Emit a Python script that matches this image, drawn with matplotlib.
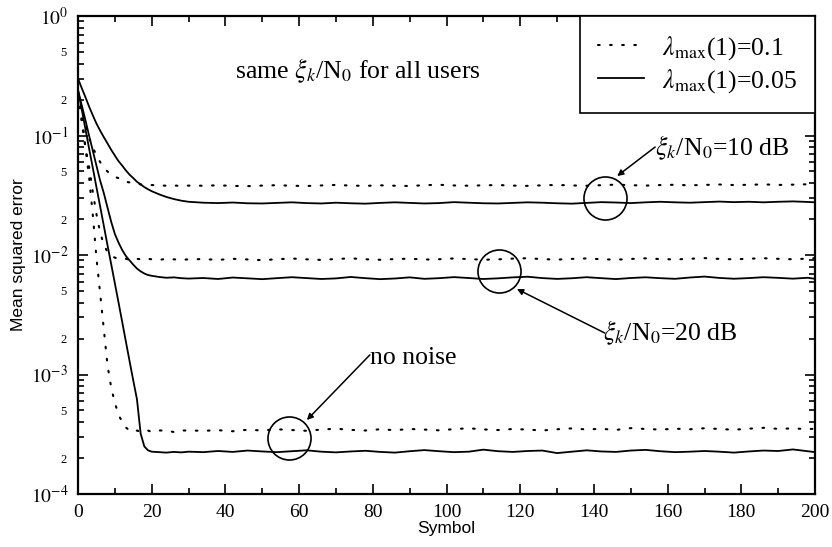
import numpy as np
import matplotlib
matplotlib.use("Agg")
import matplotlib.pyplot as plt
from matplotlib.ticker import FixedLocator, FuncFormatter

plt.rcParams['font.family'] = 'serif'
plt.rcParams['font.serif'] = ['Liberation Serif', 'DejaVu Serif']
plt.rcParams['mathtext.fontset'] = 'stix'

# Symbol index (x axis)
sym = list(range(0, 21)) + [22, 24, 26, 28, 30] + list(range(34, 199, 4)) + [200]

# lambda_max(1)=0.05 (solid) and 0.1 (dotted), three SNR cases
s10 = [0.300, 0.250, 0.210, 0.175, 0.148, 0.126, 0.110, 0.097, 0.086, 0.076, 0.068,
       0.061, 0.056, 0.051, 0.047, 0.044, 0.041, 0.039, 0.037, 0.0355, 0.0342,
       0.0322, 0.0306, 0.0294, 0.0285, 0.0279,
       0.0274, 0.0272, 0.0275, 0.0271, 0.0270, 0.0273, 0.0276, 0.0272, 0.0270, 0.0274,
       0.0271, 0.0269, 0.0273, 0.0276, 0.0273, 0.0270, 0.0272, 0.0277, 0.0274, 0.0271,
       0.0270, 0.0273, 0.0276, 0.0274, 0.0271, 0.0269, 0.0273, 0.0277, 0.0275, 0.0272,
       0.0276, 0.0279, 0.0276, 0.0274, 0.0277, 0.0280, 0.0277, 0.0279, 0.0276, 0.0279,
       0.0281, 0.0278, 0.0276]
d10 = [0.230, 0.170, 0.125, 0.095, 0.080, 0.068, 0.060, 0.054, 0.050, 0.047, 0.045,
       0.044, 0.042, 0.041, 0.0405, 0.0400, 0.0395, 0.0390, 0.0388, 0.0386, 0.0385,
       0.0383, 0.0380, 0.0382, 0.0378, 0.0381,
       0.0380, 0.0383, 0.0379, 0.0377, 0.0381, 0.0384, 0.0380, 0.0378, 0.0382, 0.0386,
       0.0381, 0.0379, 0.0383, 0.0380, 0.0378, 0.0384, 0.0387, 0.0382, 0.0380, 0.0383,
       0.0385, 0.0381, 0.0379, 0.0383, 0.0386, 0.0382, 0.0380, 0.0384, 0.0388, 0.0384,
       0.0381, 0.0385, 0.0387, 0.0383, 0.0386, 0.0389, 0.0385, 0.0387, 0.0390, 0.0386,
       0.0388, 0.0391, 0.0389]
s20 = [0.240, 0.180, 0.135, 0.100, 0.075, 0.056, 0.042, 0.033, 0.025, 0.019, 0.015,
       0.0127, 0.0110, 0.0098, 0.0090, 0.0083, 0.0077, 0.0073, 0.0070, 0.0068, 0.0067,
       0.00655, 0.00645, 0.00650, 0.00640, 0.00635,
       0.00642, 0.00630, 0.00648, 0.00638, 0.00628, 0.00640, 0.00652, 0.00641, 0.00630,
       0.00637, 0.00655, 0.00640, 0.00628, 0.00636, 0.00650, 0.00632, 0.00640, 0.00653,
       0.00642, 0.00630, 0.00638, 0.00650, 0.00658, 0.00641, 0.00631, 0.00639, 0.00652,
       0.00640, 0.00629, 0.00642, 0.00651, 0.00640, 0.00632, 0.00648, 0.00660, 0.00643,
       0.00633, 0.00641, 0.00652, 0.00644, 0.00634, 0.00645, 0.00632]
d20 = [0.220, 0.130, 0.080, 0.055, 0.034, 0.022, 0.0155, 0.0122, 0.0106, 0.0099, 0.0095,
       0.0093, 0.0092, 0.0093, 0.0091, 0.0092, 0.0093, 0.0092, 0.0091, 0.0093, 0.0092,
       0.0091, 0.0093, 0.0092, 0.0091, 0.0092,
       0.00925, 0.00910, 0.00930, 0.00918, 0.00905, 0.00922, 0.00935, 0.00920, 0.00910,
       0.00926, 0.00938, 0.00921, 0.00912, 0.00925, 0.00932, 0.00916, 0.00922, 0.00936,
       0.00925, 0.00913, 0.00920, 0.00933, 0.00940, 0.00924, 0.00915, 0.00928, 0.00936,
       0.00922, 0.00914, 0.00927, 0.00938, 0.00925, 0.00918, 0.00930, 0.00942, 0.00928,
       0.00920, 0.00931, 0.00940, 0.00929, 0.00921, 0.00933, 0.00940]
s0 = [0.240, 0.166, 0.114, 0.078, 0.054, 0.037, 0.0256, 0.0176, 0.0121, 0.0084, 0.0058,
      0.0040, 0.00275, 0.00188, 0.00129, 0.00089, 0.00062, 0.00032, 0.000250, 0.000232,
      0.000226, 0.000224, 0.000222, 0.000225, 0.000223, 0.000226,
      0.000224, 0.000229, 0.000225, 0.000231, 0.000227, 0.000224, 0.000228, 0.000232,
      0.000226, 0.000223, 0.000227, 0.000230, 0.000225, 0.000222, 0.000228, 0.000233,
      0.000228, 0.000224, 0.000226, 0.000235, 0.000228, 0.000225, 0.000229, 0.000231,
      0.000220, 0.000226, 0.000232, 0.000227, 0.000225, 0.000231, 0.000234, 0.000228,
      0.000224, 0.000226, 0.000229, 0.000226, 0.000222, 0.000227, 0.000231, 0.000229,
      0.000236, 0.000228, 0.000224]
d0 = [0.220, 0.150, 0.080, 0.045, 0.022, 0.0095, 0.0048, 0.0024, 0.0012, 0.00078,
      0.00058, 0.00046, 0.00040, 0.00036, 0.00034, 0.00033, 0.00034, 0.00033, 0.00034,
      0.00034, 0.00033, 0.00034, 0.00034, 0.00033, 0.00034, 0.00034,
      0.000338, 0.000342, 0.000335, 0.000345, 0.000340, 0.000348, 0.000343, 0.000338,
      0.000346, 0.000352, 0.000344, 0.000340, 0.000348, 0.000342, 0.000350, 0.000346,
      0.000341, 0.000349, 0.000355, 0.000347, 0.000343, 0.000350, 0.000346, 0.000340,
      0.000348, 0.000354, 0.000347, 0.000351, 0.000344, 0.000356, 0.000350, 0.000346,
      0.000352, 0.000348, 0.000355, 0.000350, 0.000345, 0.000352, 0.000358, 0.000351,
      0.000354, 0.000349, 0.000352]

legend_labels = [r'$\lambda_{\rm max}$(1)=0.1', r'$\lambda_{\rm max}$(1)=0.05']

dot_style = dict(color='black', lw=1.5, ls=(0, (0.8, 5.0)), dash_capstyle='round')
solid_style = dict(color='black', lw=1.3)

fig = plt.figure(figsize=(8.32, 5.47), dpi=100)
ax = fig.add_axes([0.09375, 0.0969, 0.8859, 0.8738])

hd, = ax.plot(sym, d10, **dot_style)
hs, = ax.plot(sym, s10, **solid_style)
ax.plot(sym, d20, **dot_style)
ax.plot(sym, s20, **solid_style)
ax.plot(sym, d0, **dot_style)
ax.plot(sym, s0, **solid_style)

ax.set_yscale('log')
ax.set_xlim(0, 200)
ax.set_ylim(1e-4, 1)

# ticks
ax.set_xticks(np.arange(0, 201, 20))
ax.xaxis.set_minor_locator(FixedLocator(np.arange(10, 200, 20)))
ax.yaxis.set_major_locator(FixedLocator([1e-4, 1e-3, 1e-2, 1e-1, 1e0]))
minors = [m * 10.0 ** e for e in range(-4, 0) for m in range(2, 10)]
ax.yaxis.set_minor_locator(FixedLocator(minors))
ax.yaxis.set_major_formatter(FuncFormatter(lambda v, p: r'$10^{%d}$' % round(np.log10(v))))


def minor_fmt(v, p):
    m = round(v / 10.0 ** np.floor(np.log10(v) + 1e-9))
    return str(m) if m in (2, 5) else ''


ax.yaxis.set_minor_formatter(FuncFormatter(minor_fmt))
ax.tick_params(which='both', direction='in', top=True, right=True, width=1.2)
ax.tick_params(which='major', length=7, labelsize=14, pad=7)
ax.tick_params(which='minor', length=4, labelsize=9, pad=8)
ax.tick_params(axis='x', which='minor', labelbottom=False)
for sp in ax.spines.values():
    sp.set_linewidth(1.6)

ax.set_xlabel('Symbol', fontfamily='Liberation Sans', fontsize=12.5, labelpad=0)
ax.set_ylabel('Mean squared error', fontfamily='Liberation Sans', fontsize=12.5, labelpad=3)

# annotations
ax.text(42.6, 0.303, r'same $\xi_k$/N$_0$ for all users', fontsize=18.5,
        va='baseline', ha='left')

circle_style = dict(marker='o', ms=31, mfc='none', mec='black', mew=1.2, ls='none')
arrow_style = dict(arrowstyle='-|>', color='black', lw=1.1, mutation_scale=9,
                   shrinkA=0, shrinkB=0)

ax.plot([143], [0.030], **circle_style)
ax.annotate('', xy=(146.3, 0.0458), xytext=(156.6, 0.0801), arrowprops=arrow_style)
ax.text(156.6, 0.0687, r'$\xi_k$/N$_0$=10 dB', fontsize=18.5, va='baseline', ha='left')

ax.plot([114.2], [0.00735], **circle_style)
ax.annotate('', xy=(119.1, 0.00519), xytext=(143.0, 0.00222), arrowprops=arrow_style)
ax.text(142.5, 0.00194, r'$\xi_k$/N$_0$=20 dB', fontsize=18.5, va='baseline', ha='left')

ax.plot([57.3], [2.94e-4], **circle_style)
ax.annotate('', xy=(62.1, 4.16e-4), xytext=(79.2, 1.46e-3), arrowprops=arrow_style)
ax.text(79.2, 1.22e-3, 'no noise', fontsize=18.5, va='baseline', ha='left')

leg = ax.legend([hd, hs], legend_labels, loc='upper right', borderaxespad=0,
                fontsize=18.5, handlelength=1.8, handletextpad=0.7, labelspacing=0.2,
                borderpad=0.7, fancybox=False, framealpha=1, edgecolor='black')
leg.get_frame().set_linewidth(1.2)

fig.savefig('out.png', dpi=100)
